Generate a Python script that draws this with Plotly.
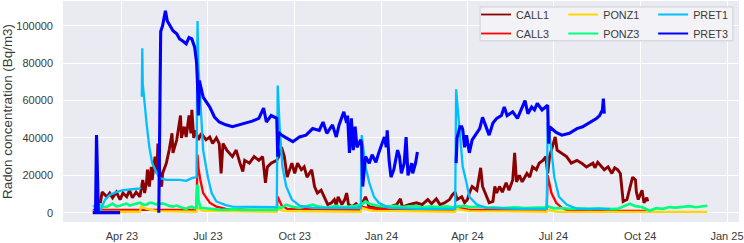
import plotly.graph_objects as go

# ---------------- data ----------------
PRET3_dates = ["2023-03-01", "2023-03-04", "2023-03-05", "2023-03-06", "2023-03-07", "2023-03-30", None,
               "2023-05-10", "2023-05-11", "2023-05-12", "2023-05-14", "2023-05-17", "2023-05-19", "2023-05-25",
               "2023-05-29", "2023-06-01", "2023-06-04", "2023-06-08", "2023-06-11", "2023-06-14", "2023-06-17",
               "2023-06-19", "2023-06-20", "2023-06-21", "2023-06-22", "2023-06-26", "2023-07-03", "2023-07-08",
               "2023-07-13", "2023-07-20", "2023-07-27", "2023-08-04", "2023-08-11", "2023-08-17", "2023-08-24",
               "2023-08-29", "2023-09-01", "2023-09-06", "2023-09-12", "2023-09-13", "2023-09-14", "2023-09-17",
               "2023-09-22", "2023-09-29", "2023-10-06", "2023-10-13", "2023-10-20", "2023-10-27", "2023-10-31",
               "2023-11-04", "2023-11-10", "2023-11-14", "2023-11-17", "2023-11-22", "2023-11-25", "2023-11-26",
               "2023-11-28", "2023-11-30", "2023-12-02", "2023-12-04", "2023-12-06", "2023-12-10", "2023-12-11",
               "2023-12-12", "2023-12-15", "2023-12-19", "2023-12-22", "2023-12-26", "2023-12-29", "2024-01-02",
               "2024-01-04", "2024-01-06", "2024-01-07", "2024-01-09", "2024-01-11", "2024-01-14", "2024-01-18",
               "2024-01-20", "2024-01-22", "2024-01-25", "2024-01-27", "2024-01-29", "2024-02-02", "2024-02-03",
               "2024-02-06", "2024-02-08", None,
               "2024-03-20", "2024-03-21", "2024-03-24", "2024-03-26", "2024-03-27", "2024-03-29", "2024-03-31",
               "2024-04-03", "2024-04-06", "2024-04-11", "2024-04-14", "2024-04-17", "2024-04-21", "2024-04-24",
               "2024-04-28", "2024-05-02", "2024-05-07", "2024-05-10", "2024-05-13", "2024-05-19", "2024-05-24",
               "2024-05-28", "2024-06-01", "2024-06-04", "2024-06-08", "2024-06-11", "2024-06-14", "2024-06-19",
               "2024-06-22", "2024-06-25", "2024-06-26", "2024-06-27", "2024-07-04", "2024-07-10", "2024-07-18",
               "2024-07-26", "2024-08-01", "2024-08-08", "2024-08-16", "2024-08-19", "2024-08-22", "2024-08-23",
               "2024-08-24"]
PRET3_vals = [0, 0, 41500, 20000, 0, 0, None,
              0, 60000, 97000, 100000, 108000, 102600, 97400,
              95800, 93000, 92000, 90400, 93700, 93000, 88500,
              80500, 69300, 52000, 70700, 61800, 56500, 51200,
              48500, 47000, 46000, 47000, 48000, 49000, 50500,
              56000, 48500, 52000, 50500, 30000, 43000, 41500,
              40000, 38000, 40500, 41500, 45000, 44000, 48500,
              42500, 47000, 40500, 47000, 54000, 48000, 52000,
              32000, 50500, 33500, 46000, 35000, 39000, 36000,
              14000, 30000, 26500, 31000, 27000, 32000, 37000,
              40500, 35000, 44000, 28000, 19000, 23000, 33500,
              30000, 21000, 26500, 40500, 20000, 26500, 21000,
              26500, 32500, None,
              26500, 40000, 46000, 46000, 44500, 35000, 41500,
              32000, 39000, 42500, 45000, 51000, 46000, 41500,
              48000, 50500, 52000, 56500, 52000, 54000, 50500,
              55000, 60000, 53000, 56500, 55000, 58500, 55000,
              56500, 57500, 37000, 46000, 43000, 41500, 42500,
              45000, 46000, 48000, 50500, 52000, 55000, 61000,
              53000]

PRET1_dates = ["2023-03-08", "2023-03-11", "2023-03-14", "2023-03-19", "2023-03-26", "2023-04-02", "2023-04-09",
               "2023-04-20", "2023-04-21", None,
               "2023-04-22 00:00", "2023-04-22 12:00", "2023-04-23", "2023-04-25", "2023-04-27", "2023-04-30",
               "2023-05-03", "2023-05-08", "2023-05-11", "2023-05-18", "2023-05-25", "2023-06-01", "2023-06-08",
               "2023-06-14", "2023-06-19", "2023-06-20", "2023-06-21", "2023-06-23", "2023-06-26", "2023-07-01",
               "2023-07-05", "2023-07-10", "2023-07-13", "2023-07-20", "2023-07-27", "2023-08-14", "2023-09-12",
               "2023-09-13", "2023-09-15", "2023-09-18", "2023-09-22", "2023-09-28", "2023-10-06", "2023-10-20",
               "2023-11-17", "2023-12-10", "2023-12-11", "2023-12-15", "2023-12-19", "2023-12-24", "2023-12-29",
               "2024-01-09", "2024-02-10", "2024-03-19", "2024-03-20", "2024-03-24", "2024-03-27", "2024-03-31",
               "2024-04-03", "2024-04-11", "2024-04-21", "2024-05-26", "2024-06-24", "2024-06-25", "2024-06-29",
               "2024-07-02", "2024-07-07", "2024-07-15", "2024-07-26", "2024-08-30"]
PRET1_vals = [0, 4000, 7000, 9500, 11000, 12000, 12500,
              13000, 13500, None,
              62000, 88000, 69000, 57000, 48000, 35000,
              26500, 21000, 18500, 17500, 17500, 17500, 17000,
              18500, 19000, 102600, 78000, 60000, 33500, 19000,
              10500, 6000, 5300, 4000, 3200, 3000, 3000,
              68000, 46000, 24500, 14000, 7000, 3700, 2600,
              2500, 2500, 41500, 24500, 16000, 8500, 5300,
              2600, 2000, 2000, 66000, 42500, 24500, 16000,
              8500, 4300, 2600, 2000, 2000, 48500, 33500,
              19000, 8500, 4300, 2000, 2000]

CALL1_dates = ["2023-03-09", "2023-03-11", "2023-03-16", "2023-03-19", "2023-03-22", "2023-03-26", "2023-03-30",
               "2023-04-02", "2023-04-06", "2023-04-09", "2023-04-12", "2023-04-16", "2023-04-20", "2023-04-22",
               "2023-04-23", "2023-04-25", "2023-04-27", "2023-04-28", "2023-04-30", "2023-05-02", "2023-05-03",
               "2023-05-06", "2023-05-08", "2023-05-09", "2023-05-10", "2023-05-12", "2023-05-13", "2023-05-14",
               "2023-05-18", "2023-05-21", "2023-05-24", "2023-05-25", "2023-05-29", "2023-06-01", "2023-06-02",
               "2023-06-03", "2023-06-06", "2023-06-08", "2023-06-11", "2023-06-13", "2023-06-14", "2023-06-16",
               "2023-06-18", "2023-06-21", "2023-06-24", "2023-06-29", "2023-07-03", "2023-07-06", "2023-07-10",
               "2023-07-13", "2023-07-15", "2023-07-17", "2023-07-21", "2023-07-27", "2023-07-31", "2023-08-04",
               "2023-08-07", "2023-08-09", "2023-08-14", "2023-08-19", "2023-08-24", "2023-08-28", "2023-08-31",
               "2023-09-02", "2023-09-06", "2023-09-12", "2023-09-14", "2023-09-17", "2023-09-20", "2023-09-23",
               "2023-09-28", "2023-10-01", "2023-10-04", "2023-10-08", "2023-10-11", "2023-10-14", "2023-10-19",
               "2023-10-22", "2023-10-25", "2023-10-29", "2023-11-02", "2023-11-05", "2023-11-09", "2023-11-12",
               "2023-11-14", "2023-11-16", "2023-11-20", "2023-11-23", "2023-11-25", "2023-11-27", "2023-12-01",
               "2023-12-05", "2023-12-08", "2023-12-11", "2023-12-15", "2023-12-19", "2023-12-26", "2024-01-02",
               "2024-01-09", "2024-01-17", "2024-01-21", "2024-01-23", "2024-01-30", "2024-02-07", "2024-02-13",
               "2024-02-19", "2024-02-23", "2024-02-28", "2024-03-03", "2024-03-08", "2024-03-13", "2024-03-16",
               "2024-03-19", "2024-03-21", "2024-03-26", "2024-03-29", "2024-04-01", "2024-04-03", "2024-04-06",
               "2024-04-11", "2024-04-13", "2024-04-15", "2024-04-17", "2024-04-21", "2024-04-24", "2024-04-28",
               "2024-04-30", "2024-05-02", "2024-05-05", "2024-05-08", "2024-05-12", "2024-05-15", "2024-05-19",
               "2024-05-21", "2024-05-23", "2024-05-26", "2024-05-29", "2024-06-03", "2024-06-06", "2024-06-09",
               "2024-06-13", "2024-06-16", "2024-06-20", "2024-06-23", "2024-06-25", "2024-06-27", "2024-06-30",
               "2024-07-03", "2024-07-05", "2024-07-09", "2024-07-15", "2024-07-20", "2024-07-26", "2024-07-31",
               "2024-08-05", "2024-08-12", "2024-08-14", "2024-08-17", "2024-08-21", "2024-08-24", "2024-08-28",
               "2024-09-01", "2024-09-04", "2024-09-07", "2024-09-10", "2024-09-12", "2024-09-13", "2024-09-17",
               "2024-09-19", "2024-09-22", "2024-09-23", "2024-09-26", "2024-09-27", "2024-09-29", "2024-10-03",
               "2024-10-05", "2024-10-08", "2024-10-09"]
CALL1_vals = [5000, 11000, 8500, 10500, 8000, 11000, 7000,
              10500, 8500, 12000, 8000, 11000, 8500, 14000,
              17500, 10500, 16500, 23000, 14000, 24500, 17500,
              30000, 21000, 37000, 28000, 15000, 14000, 21000,
              26500, 33500, 42500, 32000, 39000, 49500, 52000,
              40000, 46000, 40500, 52000, 42500, 55000, 40000,
              44000, 39000, 42500, 39000, 40500, 37000, 40000,
              37000, 21000, 37000, 33500, 30000, 33500, 26500,
              22000, 28000, 26500, 30000, 28000, 30000, 16000,
              24500, 26500, 28000, 30000, 35000, 30000, 19000,
              26500, 21000, 26500, 23000, 24500, 19000, 23000,
              14000, 10500, 12000, 7000, 4300, 5300, 7000,
              4000, 8500, 4300, 7000, 10500, 4300, 3200,
              4800, 3000, 4300, 8500, 3000, 2600, 3000,
              3000, 4300, 7400, 3000, 4300, 5300, 4300,
              7000, 4800, 7400, 4300, 5300, 7000, 9500,
              11000, 7000, 8500, 5300, 7000, 10500, 14000,
              12000, 17500, 24000, 14000, 8500, 5300, 6000,
              14000, 10500, 14000, 11000, 16000, 12000, 17500,
              32000, 16500, 20000, 16500, 21000, 19000, 24500,
              23000, 26500, 28000, 30000, 21000, 30000, 35000,
              40500, 33500, 32000, 30000, 26500, 28000, 26500,
              24500, 26500, 24000, 27000, 24500, 23000, 24500,
              21000, 24000, 23000, 21000, 12000, 6000, 7000,
              11000, 16500, 19000, 17500, 11000, 7000, 12000,
              5300, 8000, 6000]

CALL3_dates = ["2023-03-01", "2023-04-15", "2023-06-19", "2023-06-20", "2023-06-21", "2023-06-23", "2023-06-26",
               "2023-07-03", "2023-07-10", "2023-07-20", "2023-08-14", "2023-09-12", "2023-09-13", "2023-09-17",
               "2023-09-23", "2023-12-10", "2023-12-11", "2023-12-19", "2024-01-09", "2024-03-19", "2024-03-20",
               "2024-04-03", "2024-06-24", "2024-06-25", "2024-06-29", "2024-07-04", "2024-07-10", "2024-07-18",
               "2024-10-09"]
CALL3_vals = [1500, 1500, 1500, 31000, 24000, 17500, 10500,
              5300, 3200, 2000, 1500, 1500, 8500, 4000,
              2000, 1500, 3000, 2500, 1500, 1500, 3000,
              1500, 1500, 20000, 10500, 5300, 2600, 1000,
              1000]

PONZ1_dates = ["2023-03-01", "2023-04-20", "2023-04-21", "2023-04-27", "2023-05-08", "2023-06-19", "2023-06-20",
               "2023-06-26", "2023-09-12", "2023-09-13", "2023-09-20", "2023-12-10", "2023-12-11", "2023-12-22",
               "2024-03-19", "2024-03-20", "2024-04-03", "2024-06-24", "2024-06-25", "2024-07-05", "2024-12-11"]
PONZ1_vals = [500, 500, 3200, 2000, 800, 500, 2500,
              1000, 500, 2000, 800, 500, 2500, 1000,
              500, 2000, 800, 500, 1500, 500, 400]

PONZ3_dates = ["2023-03-01", "2023-03-04", "2023-03-08", "2023-03-12", "2023-03-16", "2023-03-19", "2023-03-22",
               "2023-03-26", "2023-03-30", "2023-04-03", "2023-04-06", "2023-04-09", "2023-04-12", "2023-04-16",
               "2023-04-20", "2023-04-24", "2023-04-27", "2023-04-30", "2023-05-03", "2023-05-07", "2023-05-11",
               "2023-05-14", "2023-05-18", "2023-05-21", "2023-05-25", "2023-05-29", "2023-06-01", "2023-06-04",
               "2023-06-08", "2023-06-11", "2023-06-14", "2023-06-17", "2023-06-19", "2023-06-20", "2023-06-21",
               "2023-06-23", "2023-06-28", "2023-07-05", "2023-07-12", "2023-07-20", "2023-07-28", "2023-08-05",
               "2023-08-14", "2023-08-22", "2023-08-30", "2023-09-06", "2023-09-12", "2023-09-13", "2023-09-17",
               "2023-09-22", "2023-09-28", "2023-10-06", "2023-10-13", "2023-10-20", "2023-10-27", "2023-11-02",
               "2023-11-07", "2023-11-14", "2023-11-21", "2023-11-28", "2023-12-04", "2023-12-11", "2023-12-15",
               "2023-12-19", "2023-12-22", "2023-12-28", "2024-01-03", "2024-01-09", "2024-01-16", "2024-01-23",
               "2024-01-30", "2024-02-06", "2024-02-13", "2024-02-20", "2024-02-27", "2024-03-03", "2024-03-10",
               "2024-03-16", "2024-03-21", "2024-03-28", "2024-04-04", "2024-04-14", "2024-04-22", "2024-04-30",
               "2024-05-08", "2024-05-15", "2024-05-23", "2024-05-31", "2024-06-08", "2024-06-16", "2024-06-22",
               "2024-06-25", "2024-07-01", "2024-07-10", "2024-07-18", "2024-07-27", "2024-08-08", "2024-08-18",
               "2024-08-28", "2024-09-07", "2024-09-12", "2024-09-16", "2024-09-20", "2024-09-26", "2024-10-03",
               "2024-10-11", "2024-10-18", "2024-10-25", "2024-11-01", "2024-11-08", "2024-11-15", "2024-11-22",
               "2024-11-29", "2024-12-05", "2024-12-11"]
PONZ3_vals = [3200, 4000, 4300, 3000, 3200, 4000, 4800,
              3400, 3700, 4500, 4800, 3800, 4300, 5000,
              5300, 4200, 4300, 5200, 5300, 4400, 4800,
              5000, 4300, 3600, 3200, 3800, 3200, 2600,
              2000, 2900, 3200, 2300, 2600, 15000, 7000,
              2600, 2300, 2000, 1600, 1500, 1900, 1500,
              1500, 1800, 1500, 1700, 1500, 3000, 2600,
              4300, 3200, 2500, 3300, 4300, 3200, 2700,
              3000, 3600, 2900, 3200, 3600, 4300, 6000,
              4800, 4300, 3600, 3300, 3200, 3700, 3000,
              3400, 3500, 2900, 3300, 3100, 3000, 3400,
              2800, 3200, 3600, 3000, 3200, 2700, 2900,
              2500, 2600, 2900, 2400, 2600, 2600, 2900,
              3500, 2300, 2500, 2100, 2300, 2000, 2300,
              1900, 2000, 3200, 4000, 4800, 3500, 3000,
              1000, 2400, 2000, 3000, 2700, 3200, 3500,
              2900, 3400, 3700]

# name, dates, values, colour, legend column
series = [
    ("CALL1", CALL1_dates, CALL1_vals, "#8B0000", "legend"),
    ("CALL3", CALL3_dates, CALL3_vals, "#FF0000", "legend"),
    ("PONZ1", PONZ1_dates, PONZ1_vals, "#FFD700", "legend2"),
    ("PONZ3", PONZ3_dates, PONZ3_vals, "#00FF7F", "legend2"),
    ("PRET1", PRET1_dates, PRET1_vals, "#00BFFF", "legend3"),
    ("PRET3", PRET3_dates, PRET3_vals, "#0000FF", "legend3"),
]
line_widths = {"CALL1": 2.9, "CALL3": 2.3, "PONZ1": 2.3, "PONZ3": 2.7, "PRET1": 2.3, "PRET3": 3.1}

x_ticks = ["2023-04-01", "2023-07-01", "2023-10-01", "2024-01-01",
           "2024-04-01", "2024-07-01", "2024-10-01", "2025-01-01"]
x_tick_labels = ["Apr 23", "Jul 23", "Oct 23", "Jan 24", "Apr 24", "Jul 24", "Oct 24", "Jan 25"]
y_ticks = [0, 20000, 40000, 60000, 80000, 100000]

# ---------------- figure ----------------
fig = go.Figure()
for name, d, v, color, leg in series:
    fig.add_trace(go.Scatter(x=d, y=v, mode="lines", name=name, showlegend=False,
                             line=dict(color=color, width=line_widths[name]),
                             connectgaps=False))
# legend entries drawn with thin lines, as in the original legend
for name, d, v, color, leg in series:
    fig.add_trace(go.Scatter(x=[None], y=[None], mode="lines", name=name, legend=leg,
                             line=dict(color=color, width=1.8), hoverinfo="skip"))

font_family = "Liberation Sans, Arial, sans-serif"
text_col = "#3a3a3a"
leg_common = dict(orientation="v", y=1.006, yanchor="top", xanchor="left",
                  bgcolor="rgba(0,0,0,0)", borderwidth=0,
                  font=dict(size=10.8, color=text_col, family=font_family),
                  traceorder="normal", itemwidth=30)

fig.update_layout(
    width=744, height=243,
    margin=dict(l=63, r=5, t=0, b=21),
    paper_bgcolor="white",
    plot_bgcolor="#EAEAF2",
    font=dict(family=font_family, size=11, color=text_col),
    showlegend=True,
    legend=dict(x=0.611, **leg_common),
    legend2=dict(x=0.740, **leg_common),
    legend3=dict(x=0.873, **leg_common),
    shapes=[dict(type="rect", xref="paper", yref="paper", x0=0.617, x1=0.991, y0=0.820, y1=0.973,
                 fillcolor="rgba(243,243,247,0.88)", line=dict(color="#CFCFD4", width=1), layer="above")],
    xaxis=dict(range=["2023-01-28 12:00", "2025-01-13 17:00"], tickvals=x_ticks, ticktext=x_tick_labels,
               showgrid=True, gridcolor="white", gridwidth=1.2, zeroline=False, showline=False,
               ticks="", ticklabelstandoff=6, tickfont=dict(size=11, color=text_col)),
    yaxis=dict(range=[-5000, 113300], tickvals=y_ticks, tickformat="d",
               showgrid=True, gridcolor="white", gridwidth=1.2, zeroline=False, showline=False,
               ticks="", ticklabelstandoff=9, tickfont=dict(size=11, color=text_col),
               title=dict(text="Radon concentration (Bq/m3)", font=dict(size=13.4, color=text_col), standoff=4)),
)

fig.write_html("out.html")
